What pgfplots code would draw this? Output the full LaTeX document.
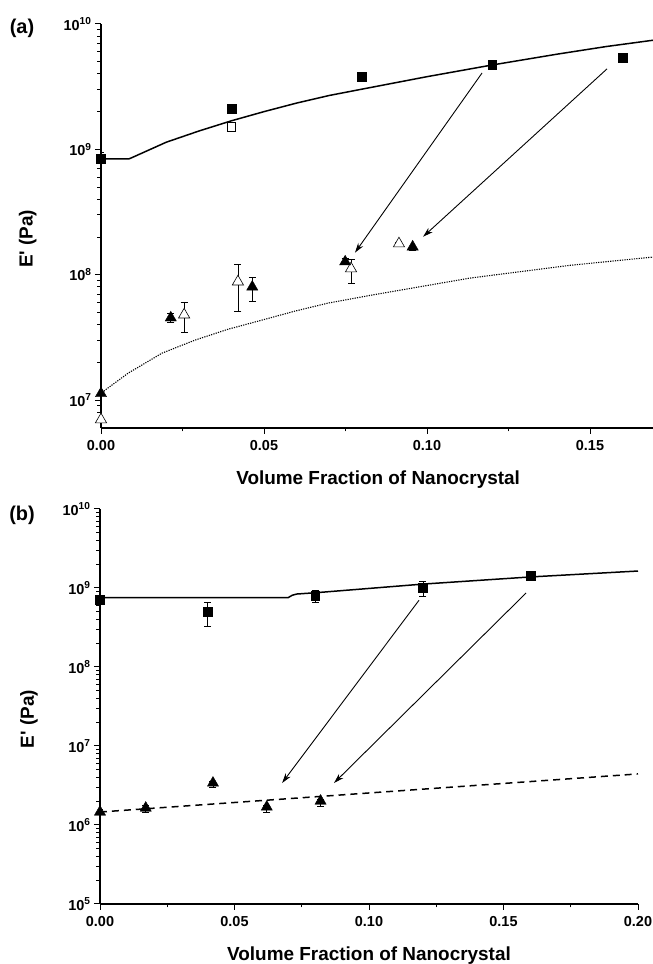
\documentclass[border=0pt]{standalone}
\usepackage{fontspec}
\setmainfont{Liberation Sans}
\usepackage{pgfplots}
\pgfplotsset{compat=1.18}
\usetikzlibrary{arrows.meta}

\pgfplotsset{
  panel/.style={
    scale only axis, anchor=south west,
    axis x line*=bottom, axis y line*=left,
    axis line style={line width=1.3pt,-},
    tick align=outside, tick style={line width=1pt,black},
    major tick length=6bp, minor tick length=3.5bp,
    clip mode=individual,
    tick label style={font=\fontsize{14.5}{16}\selectfont\bfseries},
    xticklabel style={yshift=-3bp},
    label style={font=\fontsize{19}{22}\selectfont\bfseries},
    xlabel={Volume Fraction of Nanocrystal},
    ylabel={E\textquotesingle{} (Pa)},
    xlabel style={at={(axis description cs:0.5,0)},anchor=center,yshift=-52bp},
    ylabel style={at={(axis description cs:-0.132,0.468)},anchor=center},
  },
  fit/.style={black,line width=1.5pt,no marks},
  arr/.style={black,line width=0.9pt,no marks,-{Stealth[length=10pt,width=6pt]}},
  sq/.style={black,only marks,mark=square*,mark size=4.4pt},
  tri/.style={black,only marks,mark=triangle*,mark size=6.5pt},
  otri/.style={black,only marks,mark=triangle*,mark size=6.5pt,mark options={fill=white,line width=0.6pt}},
  ebar/.style={error bars/y dir=both,error bars/y explicit,
    error bars/error bar style={line width=0.6pt},
    error bars/error mark options={rotate=90,mark size=3.5pt,line width=0.6pt}},
}

\begin{document}
\begin{tikzpicture}
\useasboundingbox (0,0) rectangle (653bp,964bp);
\node[font=\fontsize{20}{22}\selectfont\bfseries] at (22bp,936bp) {(a)};
\node[font=\fontsize{20}{22}\selectfont\bfseries] at (22bp,449bp) {(b)};

% ---------- panel (a)
\begin{axis}[panel, ymode=log, at={(101bp,536bp)}, width=554.2bp, height=404bp,
  xmin=0, xmax=0.17, ymin=6e6, ymax=1e10,
  xtick={0,0.05,0.1,0.15}, xticklabels={0.00,0.05,0.10,0.15},
  minor xtick={0.025,0.075,0.125},
  ytick={1e7,1e8,1e9,1e10},
  yticklabels={10\textsuperscript{7},10\textsuperscript{8},10\textsuperscript{9},10\textsuperscript{10}},
  minor ytick={7e6,8e6,9e6,2e7,3e7,4e7,5e7,6e7,7e7,8e7,9e7,
    2e8,3e8,4e8,5e8,6e8,7e8,8e8,9e8,2e9,3e9,4e9,5e9,6e9,7e9,8e9,9e9}]
% fitted model, solid
\addplot[fit] coordinates {(0,8.4e8) (0.0086,8.4e8) (0.0095,8.6e8) (0.011,8.95e8)
  (0.02,1.14e9) (0.03,1.40e9) (0.04,1.69e9) (0.05,2.0e9) (0.06,2.34e9)
  (0.07,2.69e9) (0.08,3.02e9) (0.10,3.80e9) (0.12,4.71e9) (0.14,5.75e9)
  (0.155,6.61e9) (0.17,7.46e9)};
% model, dotted
\addplot[black,no marks,line width=1.1pt,dash pattern=on 1.2pt off 1.2pt] coordinates {
  (0,1.1e7) (0.0012,1.20e7) (0.0083,1.64e7) (0.0187,2.37e7) (0.0288,3.01e7)
  (0.039,3.68e7) (0.0494,4.35e7) (0.0595,5.13e7) (0.0696,5.94e7) (0.0831,6.89e7)
  (0.1132,9.41e7) (0.1439,1.19e8) (0.17,1.39e8)};
% arrows
\addplot[arr] coordinates {(0.1169,4.07e9) (0.0779,1.50e8)};
\addplot[arr] coordinates {(0.1552,4.38e9) (0.0988,2.01e8)};
% open squares
\addplot[black,only marks,mark=square*,mark size=4.2pt,mark options={fill=white,line width=0.6pt}]
  coordinates {(0.04,1.51e9)};
% filled squares
\addplot[sq,ebar] coordinates {(0,8.4e8) += (0,1.0e8) -= (0,0.7e8)
  (0.04,2.1e9) +- (0,0) (0.08,3.78e9) +- (0,0) (0.12,4.71e9) +- (0,0) (0.16,5.36e9) +- (0,0)};
% open triangles
\addplot[otri,ebar] coordinates {(0,7.0e6) +- (0,0)
  (0.0255,4.8e7) += (0,1.2e7) -= (0,1.35e7)
  (0.042,8.8e7) += (0,3.4e7) -= (0,3.7e7)
  (0.0767,1.12e8) += (0,2.0e7) -= (0,2.7e7)
  (0.0914,1.77e8) += (0,0.5e7) -= (0,0.6e7)};
% filled triangles
\addplot[tri,ebar] coordinates {(0,1.13e7) +- (0,0)
  (0.0214,4.54e7) += (0,0.4e7) -= (0,0.4e7)
  (0.0464,8.0e7) += (0,1.6e7) -= (0,1.9e7)
  (0.0749,1.27e8) += (0,0.8e7) -= (0,0.5e7)
  (0.0956,1.67e8) += (0,0) -= (0,1.0e7)};
\end{axis}

% ---------- panel (b)
\begin{axis}[panel, ymode=log, at={(100bp,60bp)}, width=538bp, height=395bp,
  xmin=0, xmax=0.2, ymin=1e5, ymax=1e10,
  xtick={0,0.05,0.1,0.15,0.2}, xticklabels={0.00,0.05,0.10,0.15,0.20},
  minor xtick={0.025,0.075,0.125,0.175},
  ytick={1e5,1e6,1e7,1e8,1e9,1e10},
  yticklabels={10\textsuperscript{5},10\textsuperscript{6},10\textsuperscript{7},10\textsuperscript{8},10\textsuperscript{9},10\textsuperscript{10}},
  minor ytick={2e5,3e5,4e5,5e5,6e5,7e5,8e5,9e5,2e6,3e6,4e6,5e6,6e6,7e6,8e6,9e6,
    2e7,3e7,4e7,5e7,6e7,7e7,8e7,9e7,2e8,3e8,4e8,5e8,6e8,7e8,8e8,9e8,
    2e9,3e9,4e9,5e9,6e9,7e9,8e9,9e9}]
\addplot[fit] coordinates {(0,7.54e8) (0.0699,7.54e8) (0.0715,8.1e8) (0.0732,8.39e8)
  (0.08,8.7e8) (0.12,1.12e9) (0.16,1.38e9) (0.2,1.64e9)};
\addplot[black,no marks,line width=1.5pt,dash pattern=on 7pt off 5pt] coordinates {
  (0,1.46e6) (0.2,4.43e6)};
\addplot[arr] coordinates {(0.1186,7.0e8) (0.0677,3.4e6)};
\addplot[arr] coordinates {(0.1584,8.65e8) (0.087,3.4e6)};
\addplot[sq,ebar] coordinates {(0,7.05e8) +- (0,0.4e8)
  (0.04,4.97e8) += (0,1.7e8) -= (0,1.7e8)
  (0.08,7.93e8) += (0,1.5e8) -= (0,1.3e8)
  (0.12,1.0e9) += (0,0.23e9) -= (0,0.21e9)
  (0.16,1.42e9) +- (0,0)};
\addplot[tri,ebar] coordinates {(0,1.46e6) += (0,0.1e6) -= (0,0.1e6)
  (0.017,1.64e6) += (0,0.15e6) -= (0,0.2e6)
  (0.042,3.4e6) += (0,0.2e6) -= (0,0.4e6)
  (0.062,1.69e6) += (0,0.1e6) -= (0,0.25e6)
  (0.082,2.01e6) += (0,0.1e6) -= (0,0.3e6)};
\end{axis}
\end{tikzpicture}
\end{document}
